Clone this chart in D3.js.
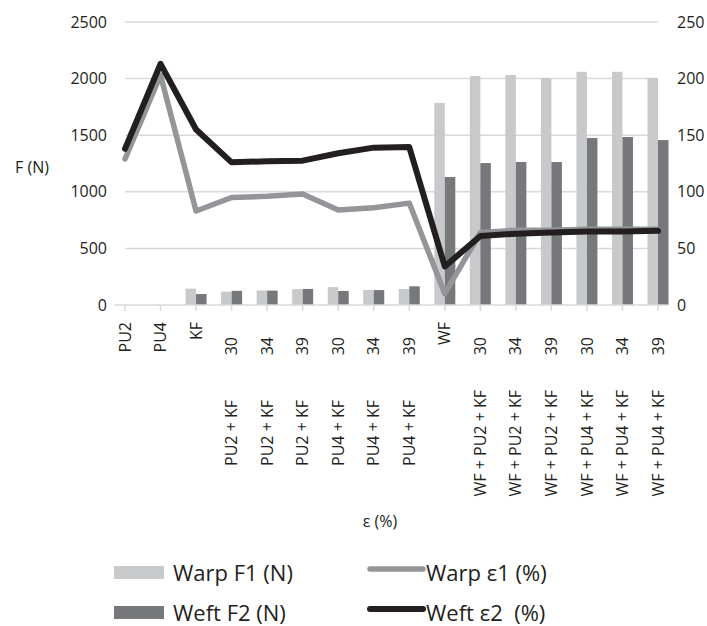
<!DOCTYPE html>
<html><head><meta charset="utf-8">
<script src="https://cdn.jsdelivr.net/npm/d3@7"></script>
<style>
body{margin:0;background:#fff;}
text{font-family:"Open Sans",sans-serif;fill:#231f20;}
</style></head>
<body><svg id="c" width="707" height="626"></svg>
<script>
const topLabels = ["PU2","PU4","KF","30","34","39","30","34","39","WF","30","34","39","30","34","39"];
const groupLabels = ["","","","PU2 + KF","PU2 + KF","PU2 + KF","PU4 + KF","PU4 + KF","PU4 + KF","","WF + PU2 + KF","WF + PU2 + KF","WF + PU2 + KF","WF + PU4 + KF","WF + PU4 + KF","WF + PU4 + KF"];
const warpF1 = [0,0,145,118,128,140,158,133,141,1785,2023,2032,2005,2060,2060,2005];
const weftF2 = [0,0,97,125,127,142,124,132,165,1131,1254,1263,1263,1475,1484,1457];
const warpE1 = [129,203,83,95,96,98,84,86,90,10,64,66,66,67,67,67];
const weftE2 = [138,213,155,126,127,127.5,134,139,139.5,34,61,63,64,65,65,65.5];
const leftTicks = [0,500,1000,1500,2000,2500];
const rightTicks = [0,50,100,150,200,250];

const svg = d3.select("#c");
const idx = d3.range(topLabels.length);
const x = d3.scalePoint().domain(idx).range([125,658]);
const yL = d3.scaleLinear().domain([0,2500]).range([305,22]);
const yR = d3.scaleLinear().domain([0,250]).range([305,22]);
const bw = 10.5;

// gridlines
svg.append("g").selectAll("line").data(leftTicks.slice(1)).join("line")
  .attr("x1",125).attr("x2",658).attr("y1",d=>yL(d)).attr("y2",d=>yL(d))
  .attr("stroke","#d9d9d9").attr("stroke-width",1.5);

// left axis
const la = svg.append("g").attr("transform","translate(107,0)")
  .call(d3.axisLeft(yL).tickValues(leftTicks).tickFormat(d3.format("d")).tickSize(0).tickPadding(0));
la.select(".domain").remove();
la.selectAll("text").attr("font-size",16).attr("font-family","Open Sans").attr("fill","#231f20");

// right axis
const ra = svg.append("g").attr("transform","translate(677,0)")
  .call(d3.axisRight(yR).tickValues(rightTicks).tickFormat(d3.format("d")).tickSize(0).tickPadding(0));
ra.select(".domain").remove();
ra.selectAll("text").attr("font-size",16).attr("font-family","Open Sans").attr("fill","#231f20");

// bars
svg.append("g").selectAll("rect").data(idx).join("rect")
  .attr("x",i=>x(i)-bw).attr("width",bw)
  .attr("y",i=>yL(warpF1[i])).attr("height",i=>yL(0)-yL(warpF1[i]))
  .attr("fill","#c8c9cb");
svg.append("g").selectAll("rect").data(idx).join("rect")
  .attr("x",i=>x(i)).attr("width",bw)
  .attr("y",i=>yL(weftF2[i])).attr("height",i=>yL(0)-yL(weftF2[i]))
  .attr("fill","#77787b");

// x axis line and ticks
svg.append("line").attr("x1",114).attr("x2",668).attr("y1",305).attr("y2",305)
  .attr("stroke","#d9d9d9").attr("stroke-width",1.5);
svg.append("g").selectAll("line").data(idx).join("line")
  .attr("x1",i=>x(i)).attr("x2",i=>x(i)).attr("y1",305).attr("y2",311)
  .attr("stroke","#d9d9d9").attr("stroke-width",1.5);

// lines
const lineGen = arr => d3.line().x(i=>x(i)).y(i=>yR(arr[i]))(idx);
svg.append("path").attr("d",lineGen(warpE1)).attr("fill","none")
  .attr("stroke","#939598").attr("stroke-width",5.5).attr("stroke-linejoin","round").attr("stroke-linecap","round");
svg.append("path").attr("d",lineGen(weftE2)).attr("fill","none")
  .attr("stroke","#231f20").attr("stroke-width",6).attr("stroke-linejoin","round").attr("stroke-linecap","round");

// category labels
const lab = svg.append("g");
idx.forEach(i=>{
  const hasGroup = groupLabels[i] !== "";
  lab.append("text").attr("transform",`translate(${x(i)},${hasGroup?337:322}) rotate(-90)`)
    .attr("text-anchor","end").attr("dy","0.35em").attr("font-size",16).text(topLabels[i]);
  if(hasGroup){
    const gy = groupLabels[i].startsWith("WF") ? 390 : 400;
    lab.append("text").attr("transform",`translate(${x(i)},${gy}) rotate(-90)`)
      .attr("text-anchor","end").attr("dy","0.35em").attr("font-size",16).text(groupLabels[i]);
  }
});

// axis titles
svg.append("text").attr("x",32).attr("y",167).attr("dy","0.35em").attr("text-anchor","middle")
  .attr("font-size",16).text("F (N)");
svg.append("text").attr("x",380).attr("y",521).attr("dy","0.35em").attr("text-anchor","middle")
  .attr("font-size",16).text("ε (%)");

// legend
const lg = svg.append("g");
lg.append("rect").attr("x",114).attr("y",566).attr("width",50).attr("height",13).attr("fill","#c8c9cb");
lg.append("text").attr("x",173).attr("y",573).attr("dy","0.35em").attr("font-size",22).text("Warp F1 (N)");
lg.append("rect").attr("x",114).attr("y",606).attr("width",50).attr("height",13).attr("fill","#77787b");
lg.append("text").attr("x",173).attr("y",613).attr("dy","0.35em").attr("font-size",22).text("Weft F2 (N)");
lg.append("line").attr("x1",370).attr("x2",423).attr("y1",569).attr("y2",569)
  .attr("stroke","#939598").attr("stroke-width",5.5).attr("stroke-linecap","round");
lg.append("text").attr("x",426).attr("y",573).attr("dy","0.35em").attr("font-size",22).text("Warp ε1 (%)");
lg.append("line").attr("x1",370).attr("x2",423).attr("y1",609).attr("y2",609)
  .attr("stroke","#231f20").attr("stroke-width",6).attr("stroke-linecap","round");
lg.append("text").attr("x",426).attr("y",613).attr("dy","0.35em").attr("font-size",22).attr("xml:space","preserve").text("Weft ε2  (%)");
</script></body></html>
